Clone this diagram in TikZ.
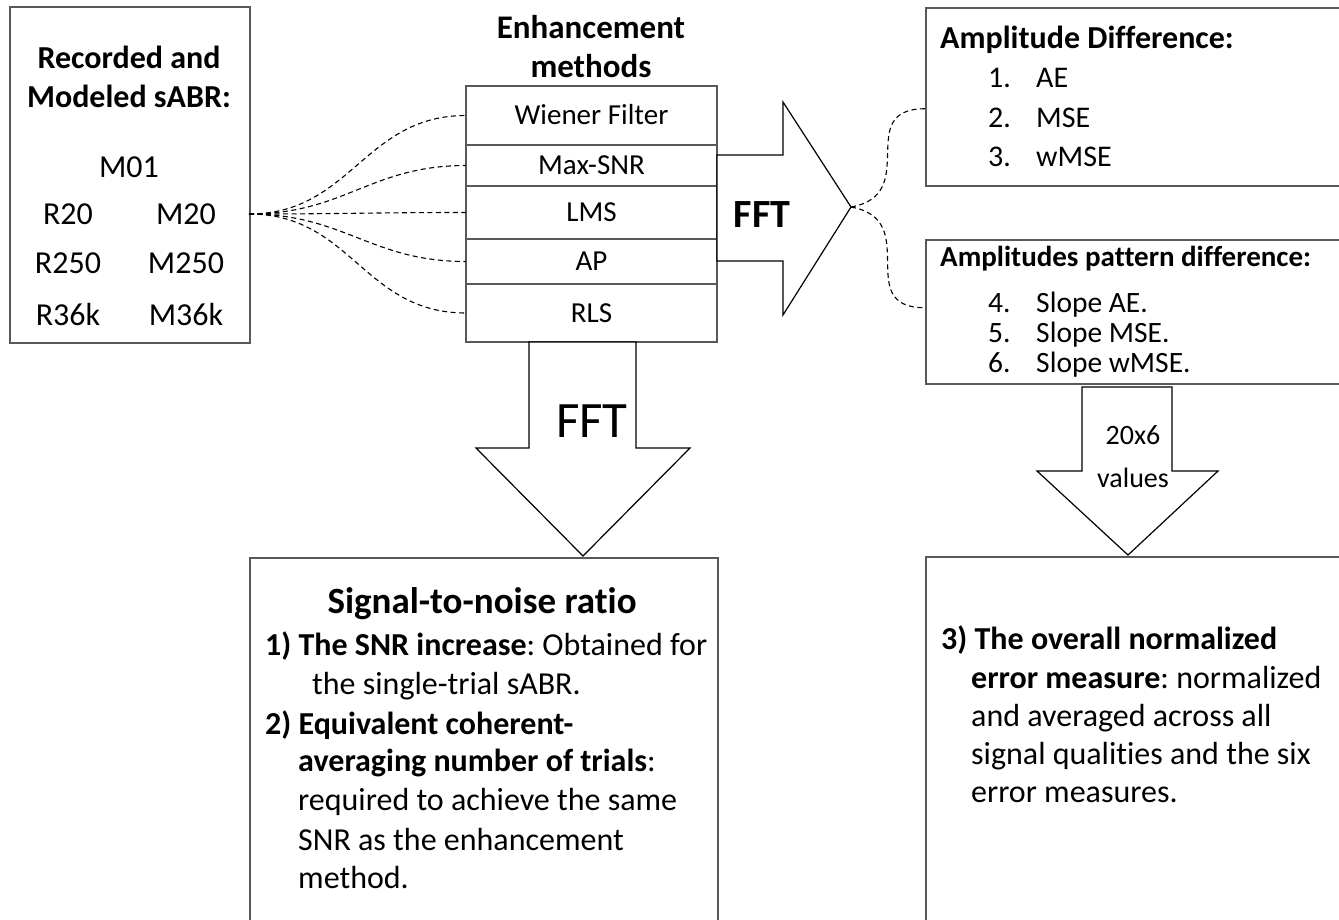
\documentclass[tikz,border=0pt]{standalone}
\usepackage{fontspec}
\setmainfont{Carlito}[Ligatures=NoCommon]
\usetikzlibrary{positioning}
\frenchspacing

\newcommand{\fsz}[1]{\fontsize{#1}{#1}\selectfont}

\begin{document}
\begin{tikzpicture}[
        x=1pt, y=-1pt,
        box/.style={draw=black!65, line width=1.5pt, inner sep=0pt, anchor=north west},
        rowbox/.style={draw=black!65, line width=1.5pt, minimum width=251pt, inner sep=0pt,
            outer sep=0pt, text height=18.7pt, text depth=0pt, font=\fsz{29}},
        blockarrow/.style={draw=black, line width=1.2pt, fill=white, line join=miter},
        link/.style={draw, line width=1.1pt, dash pattern=on 5pt off 3.5pt},
        lbl/.style={inner sep=0pt, anchor=base},
        lblw/.style={inner sep=0pt, anchor=base west}
    ]
        \useasboundingbox (0,0) rectangle (1339,919);
        \clip (0,0) rectangle (1339,919);

        % signals
        \node[box, minimum width=240pt, minimum height=336pt] (rec) at (9,6) {};
        \node[lbl, font=\fsz{32}\bfseries] (rectitle) at (129,68) {Recorded and};
        \node[lbl, font=\fsz{32}\bfseries] (modtitle) at (129,107) {Modeled sABR:};
        \node[lbl, font=\fsz{32}] (m01) at (129,177) {M01};
        \foreach \r/\m/\y in {R20/M20/224, R250/M250/273, R36k/M36k/325}{
            \node[lbl, font=\fsz{32}] (sig\r) at (68,\y) {\r};
            \node[lbl, font=\fsz{32}] (sig\m) at (186,\y) {\m};
        }
        \coordinate (src) at (249,214);

        % enhancement methods
        \node[lbl, font=\fsz{33}\bfseries] (enhtitle) at (591,38) {Enhancement};
        \node[lbl, font=\fsz{33}\bfseries] (methtitle) at (591,77) {methods};
        \node[rowbox, minimum height=59pt, anchor=north west] (wien) at (466,86) {Wiener Filter};
        \node[rowbox, minimum height=41pt, below=0pt of wien] (maxsnr) {Max-SNR};
        \node[rowbox, minimum height=53pt, below=0pt of maxsnr] (lms) {LMS};
        \node[rowbox, minimum height=45pt, below=0pt of lms] (ap) {AP};
        \node[rowbox, minimum height=58pt, below=0pt of ap] (rls) {RLS};

        \foreach \r in {wien,maxsnr,lms,ap,rls}
            \draw[link] (src) to[out=0, in=180, looseness=1.1] (\r.west);

        % FFT arrows
        \draw[blockarrow] (717,155) -- (783,155) -- (783,102) -- (851,207)
            -- (783,315) -- (783,261) -- (717,261) -- cycle;
        \coordinate (rtip) at (851,207);
        \node[lbl, font=\fsz{40}\bfseries] (fftr) at (762,227) {FFT};

        \draw[blockarrow] (529,342) -- (636,342) -- (636,448) -- (690,448)
            -- (583,556) -- (476,448) -- (529,448) -- cycle;
        \node[lbl, font=\fsz{51}] (fftd) at (592,437) {FFT};

        % error measures
        \node[box, minimum width=425pt, minimum height=178pt] (ampd) at (925,7) {};
        \node[lblw, font=\fsz{32}\bfseries] (ampdtitle) at (940,48) {Amplitude Difference:};
        \foreach \n/\t/\y in {1/AE/87, 2/MSE/127, 3/wMSE/166}{
            \node[lblw, font=\fsz{30}] (num\n) at (988,\y) {\n.};
            \node[lblw, font=\fsz{30}] (err\n) at (1036,\y) {\t};
        }
        \node[box, minimum width=425pt, minimum height=144pt] (ampp) at (925,239) {};
        \node[lblw, font=\fsz{29}\bfseries] (ampptitle) at (940,266) {Amplitudes pattern difference:};
        \foreach \n/\t/\y in {4/Slope AE./312, 5/Slope MSE./342, 6/Slope wMSE./372}{
            \node[lblw, font=\fsz{29.5}] (num\n) at (988,\y) {\n.};
            \node[lblw, font=\fsz{29.5}] (err\n) at (1036,\y) {\t};
        }
        \draw[link] (rtip) to[out=10, in=180, looseness=1.5] ([yshift=-12pt]ampd.west);
        \draw[link] (rtip) to[out=-10, in=180, looseness=1.5] ([yshift=4pt]ampp.west);

        \draw[blockarrow] (1082,387) -- (1172,387) -- (1172,471) -- (1218,471)
            -- (1128,555) -- (1037,471) -- (1082,471) -- cycle;
        \node[lbl, font=\fsz{28}] (cnt) at (1133,444) {20x6};
        \node[lbl, font=\fsz{28}] (vals) at (1133,487) {values};

        % results
        \node[box, minimum width=468pt, minimum height=380pt] (snr) at (249,557) {};
        \node[lbl, font=\fsz{37}\bfseries] (snrtitle) at (482,613) {Signal-to-noise ratio};
        \begin{scope}[every node/.style={lblw, font=\fsz{32}}]
            \node (snr1) at (265,655) {\textbf{1) The SNR increase}: Obtained for};
            \node (snr1b) at (312,694) {the single-trial sABR.};
            \node (snr2) at (265,734) {\textbf{2) Equivalent coherent-}};
            \node (snr2b) at (298,771) {\textbf{averaging number of trials}:};
            \node (snr2c) at (298,810) {required to achieve the same};
            \node (snr2d) at (298,850) {SNR as the enhancement};
            \node (snr2e) at (298,888) {method.};
        \end{scope}

        \node[box, minimum width=430pt, minimum height=380pt] (nem) at (925,556) {};
        \begin{scope}[every node/.style={lblw, font=\fsz{32}}]
            \node (nem3) at (941,649) {\textbf{3) The overall normalized}};
            \node (nem3b) at (971,688) {\textbf{error measure}: normalized};
            \node (nem3c) at (971,726) {and averaged across all};
            \node (nem3d) at (971,764) {signal qualities and the six};
            \node (nem3e) at (971,802) {error measures.};
        \end{scope}
    \end{tikzpicture}
\end{document}
